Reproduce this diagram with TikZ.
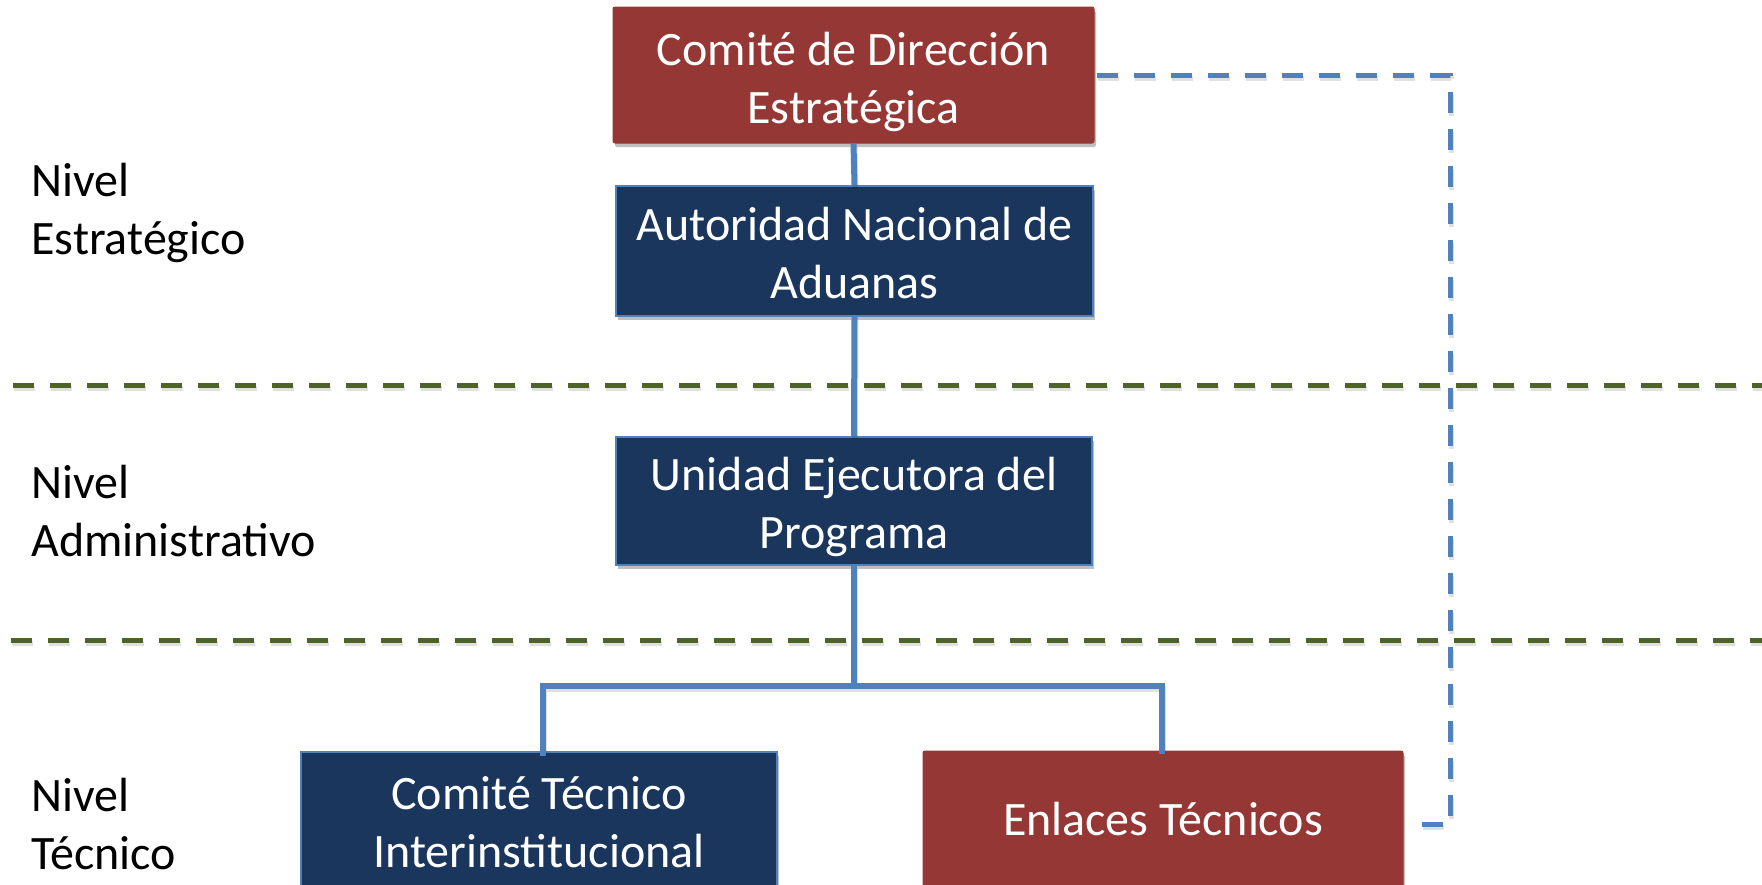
\documentclass[tikz,border=0pt]{standalone}
\usepackage{fontspec}
\setmainfont{Carlito}
\usetikzlibrary{shadows}
\definecolor{boxred}{RGB}{149,55,53}
\definecolor{boxblue}{RGB}{26,54,93}
\definecolor{linkblue}{RGB}{79,129,189}
\definecolor{sepgreen}{RGB}{79,98,40}
\newcommand\boxtext[2]{\raisebox{#1}[\height][\depth]{\begin{tabular}{@{}c@{}}#2\end{tabular}}}
\tikzset{
  orgbox/.style={rectangle, text=white, align=center, inner sep=0pt,
    font=\fontsize{24}{29}\selectfont,
    drop shadow={shadow xshift=1pt, shadow yshift=-2pt, opacity=0.25, fill=black}},
  redbox/.style={orgbox, fill=boxred, draw=boxred, line width=0.5pt, rounded corners=1pt},
  bluebox/.style={orgbox, fill=boxblue, draw=linkblue, line width=1pt},
  levellabel/.style={anchor=west, align=left, inner sep=0pt, text=black,
    font=\fontsize{24}{29}\selectfont},
  link/.style={draw=linkblue, line width=3pt,
    preaction={draw=black, draw opacity=0.12, line width=3pt,
      transform canvas={xshift=0.5pt, yshift=-1.5pt}}},
  dashlink/.style={draw=linkblue, line width=2.5pt, dash pattern=on 10.5pt off 8pt,
    preaction={draw=black, draw opacity=0.12, line width=2.5pt, dash pattern=on 10.5pt off 8pt,
      transform canvas={xshift=0.5pt, yshift=-1.5pt}}},
  separator/.style={draw=sepgreen, line width=2.5pt, dash pattern=on 10.5pt off 8pt,
    preaction={draw=black, draw opacity=0.12, line width=2.5pt, dash pattern=on 10.5pt off 8pt,
      transform canvas={xshift=0.5pt, yshift=-1.5pt}}}
}
\begin{document}
\begin{tikzpicture}[x=0.5pt, y=-0.5pt]
\useasboundingbox (0,0) rectangle (1762,884);
\fill[white] (0,0) rectangle (1762,884);

% separators
\coordinate (g1a) at (13,385);
\coordinate (g1b) at (1762,385);
\coordinate (g2a) at (11,640);
\coordinate (g2b) at (1762,640);
\draw[separator] (g1a) -- (g1b);
\draw[separator] (g2a) -- (g2b);

% level labels
\node[levellabel] (l1) at (31,213) {Nivel\\Estratégico};
\node[levellabel] (l2) at (31,511) {Nivel\\Administrativo};
\node[levellabel] (l3) at (31,824) {Nivel\\Técnico};

% boxes
\node[redbox, minimum width=240.5pt, minimum height=68pt] (cde) at (853.5,75) {\boxtext{-3.9pt}{Comité de Dirección\\Estratégica}};
\node[bluebox, minimum width=238.5pt, minimum height=65pt] (ana) at (854.5,251) {\boxtext{-3.4pt}{Autoridad Nacional de\\Aduanas}};
\node[bluebox, minimum width=238pt, minimum height=64pt] (uep) at (854,501) {\boxtext{-3.3pt}{Unidad Ejecutora del\\Programa}};
\node[bluebox, minimum width=238pt, minimum height=70pt] (ctc) at (539,822) {\boxtext{-2.2pt}{Comité Técnico\\Interinstitucional}};
\node[redbox, minimum width=240pt, minimum height=73pt] (enl) at (1163,824) {\boxtext{0pt}{Enlaces Técnicos}};

% connectors
\coordinate (j) at (854,686);
\coordinate (jl) at (543,686);
\coordinate (jr) at (1162,686);
\coordinate (ctcn) at (543,753);
\coordinate (enln) at (1162,751);
\draw[link] (cde.south) -- (ana.north);
\draw[link] (ana.south) -- (uep.north);
\draw[link] (uep.south) -- (j);
\draw[link, line cap=rect] (ctcn) -- (jl) -- (jr) -- (enln);

% dashed link
\coordinate (d1) at (1450,75);
\coordinate (d2) at (1450,824);
\draw[dashlink] ([xshift=1pt]cde.east) -- (d1) -- (d2) -- ([xshift=4pt]enl.east);
\end{tikzpicture}
\end{document}
